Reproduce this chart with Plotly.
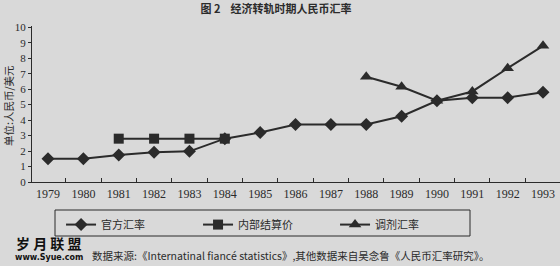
import plotly.graph_objects as go

years = list(range(1979, 1994))
official = [1.50, 1.50, 1.75, 1.92, 1.98, 2.80, 3.20, 3.72, 3.72, 3.72, 4.25, 5.25, 5.45, 5.45, 5.80]
internal_years = [1981, 1982, 1983, 1984]
internal = [2.80, 2.80, 2.80, 2.80]
swap_years = [1988, 1989, 1990, 1991, 1992, 1993]
swap = [6.80, 6.15, 5.25, 5.85, 7.35, 8.80]
y_ticks = list(range(0, 11))

INK = "#2b2b2b"
BG = "#d9d9d9"
SERIF = "Liberation Serif, DejaVu Serif, serif"
CJK = "Noto Sans CJK SC, sans-serif"

fig = go.Figure()
fig.add_trace(go.Scatter(x=years, y=official, mode="lines+markers", name="官方汇率",
                         line=dict(color=INK, width=2),
                         marker=dict(symbol="diamond", size=10, color=INK)))
fig.add_trace(go.Scatter(x=internal_years, y=internal, mode="lines+markers", name="内部结算价",
                         line=dict(color=INK, width=2),
                         marker=dict(symbol="square", size=10, color=INK)))
fig.add_trace(go.Scatter(x=swap_years, y=swap, mode="lines+markers", name="调剂汇率",
                         line=dict(color=INK, width=2),
                         marker=dict(symbol="triangle-up", size=11, color=INK)))

fig.update_layout(
    width=560, height=266,
    margin=dict(l=32, r=0, t=26, b=84),
    paper_bgcolor=BG, plot_bgcolor=BG,
    font=dict(family=SERIF, size=11, color=INK),
    title=dict(text="<b>图 2    经济转轨时期人民币汇率</b>", x=0.493, xanchor="center",
               y=1 - 9 / 266, yanchor="middle", font=dict(family=CJK, size=11, color=INK)),
    showlegend=True,
    legend=dict(orientation="h", x=0.055, xanchor="left", y=-0.18, yanchor="top",
                bgcolor="rgba(0,0,0,0)", borderwidth=0,
                font=dict(family=CJK, size=11, color=INK),
                entrywidth=92, entrywidthmode="pixels"),
    xaxis=dict(range=[1978.547, 1993.48], tickmode="array", tickvals=years,
               ticktext=[str(y) for y in years], ticks="", showgrid=False, zeroline=False,
               showline=True, linecolor=INK, linewidth=1.2,
               tickfont=dict(family=SERIF, size=12, color=INK),
               minor=dict(tickmode="array", tickvals=[y + 0.5 for y in years[:-1]],
                          ticks="inside", ticklen=4, tickcolor=INK, showgrid=False)),
    yaxis=dict(range=[0, 10.08], tickmode="array", tickvals=y_ticks, ticks="outside",
               ticklen=3, tickcolor=INK, showgrid=False, zeroline=False,
               showline=True, linecolor=INK, linewidth=1.2,
               tickfont=dict(family=SERIF, size=11, color=INK)),
    shapes=[dict(type="rect", xref="paper", yref="paper",
                 x0=(55 - 32) / 528, x1=(470 - 32) / 528,
                 y0=(182 - 236) / 156, y1=(182 - 210) / 156,
                 line=dict(color=INK, width=1))],
    annotations=[
        dict(text="单位:人民币/美元", xref="paper", yref="paper",
             x=(8 - 32) / 528, y=(182 - 106) / 156, xanchor="center", yanchor="middle",
             textangle=-90, showarrow=False, font=dict(family=CJK, size=10.5, color=INK)),
        dict(text="数据来源:《Internatinal fiancé statistics》,其他数据来自吴念鲁《人民币汇率研究》。",
             xref="paper", yref="paper", x=(90 - 32) / 528, y=(182 - 255) / 156,
             xanchor="left", yanchor="middle", showarrow=False,
             font=dict(family=CJK, size=10.5, color=INK)),
        dict(text="<b>岁 月 联 盟</b>", xref="paper", yref="paper",
             x=(14 - 32) / 528, y=(182 - 243) / 156, xanchor="left", yanchor="middle",
             showarrow=False, font=dict(family=CJK, size=14, color="#111111")),
        dict(text="<b>www.Syue.com</b>", xref="paper", yref="paper",
             x=(13 - 32) / 528, y=(182 - 257) / 156, xanchor="left", yanchor="middle",
             showarrow=False, font=dict(family="DejaVu Sans, sans-serif", size=8, color="#111111")),
    ],
)

fig.write_html("out.html")
